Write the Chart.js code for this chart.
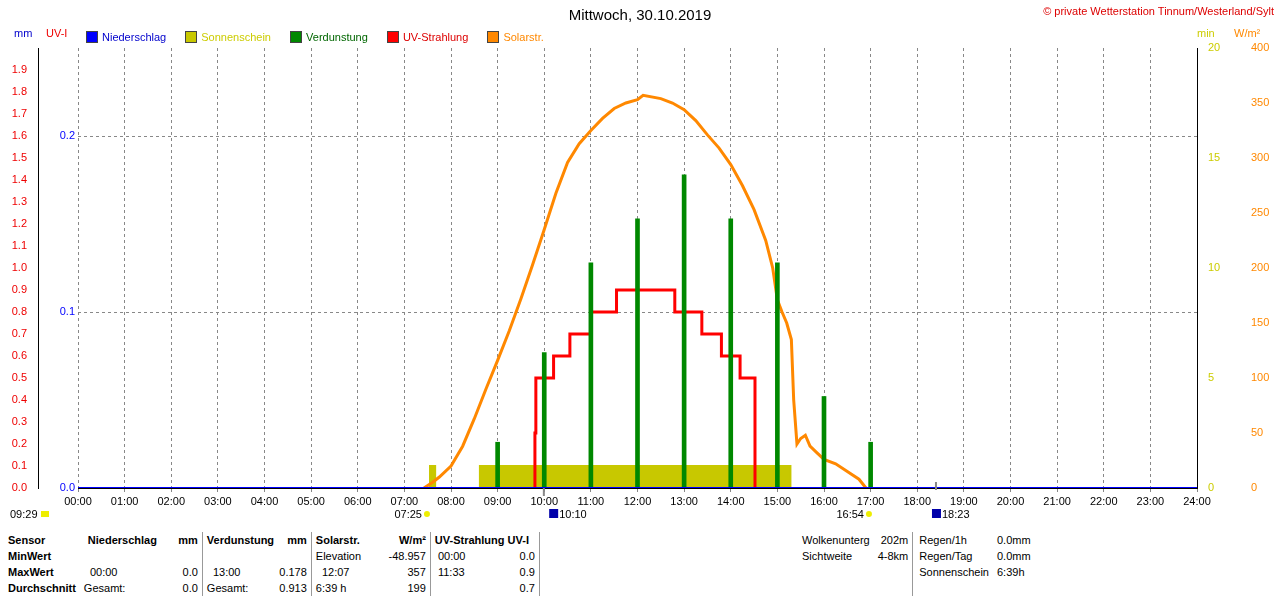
<!DOCTYPE html>
<html><head><meta charset="utf-8">
<script src="https://cdn.jsdelivr.net/npm/chart.js@4"></script>
<style>
body{margin:0;background:#fff;font-family:"Liberation Sans",Arial,sans-serif;font-size:11px;width:1280px;height:600px;position:relative;overflow:hidden}
.a{position:absolute;white-space:nowrap}
.sq{display:inline-block;width:10px;height:10px;border:1px solid #444;margin-right:4px;vertical-align:-2px}
table{position:absolute;top:532px;border-collapse:collapse;font-size:11px}
td{padding:0 4px;height:16px}
.b{font-weight:bold}
.r{text-align:right}
.sep{border-right:1px solid #999}
</style></head><body>
<canvas id="c" width="1280" height="520" style="position:absolute;left:0;top:0"></canvas>
<div class="a" style="left:0;width:1280px;top:6px;text-align:center;font-size:15px">Mittwoch, 30.10.2019</div>
<div class="a" style="right:6px;top:5px;color:#d00">© private Wetterstation Tinnum/Westerland/Sylt</div>
<div class="a" style="left:14px;top:27px;color:#00c">mm</div>
<div class="a" style="left:46px;top:27px;color:#e00">UV-I</div>
<div class="a" style="left:1197px;top:27px;color:#cc0">min</div>
<div class="a" style="left:1234px;top:27px;color:#f80">W/m²</div>
<div class="a" style="left:86px;top:31px">
<span class="sq" style="background:#00f"></span><span style="color:#00c;margin-right:16px">Niederschlag</span>
<span class="sq" style="background:#c8c800"></span><span style="color:#cc0;margin-right:16px">Sonnenschein</span>
<span class="sq" style="background:#080"></span><span style="color:#060;margin-right:16px">Verdunstung</span>
<span class="sq" style="background:#f00"></span><span style="color:#d00;margin-right:16px">UV-Strahlung</span>
<span class="sq" style="background:#f80"></span><span style="color:#f80">Solarstr.</span>
</div>
<table style="left:4px">
<tr><td class="b">Sensor</td><td class="b sep" style="padding-left:8px;width:110px"><span>Niederschlag</span><span style="float:right">mm</span></td>
<td class="b sep" style="width:100px"><span>Verdunstung</span><span style="float:right">mm</span></td>
<td class="b sep" style="width:110px"><span>Solarstr.</span><span style="float:right">W/m²</span></td>
<td class="b sep" style="width:100px">UV-Strahlung UV-I</td></tr>
<tr><td class="b">MinWert</td><td class="sep"></td><td class="sep"></td><td class="sep">Elevation<span style="float:right">-48.957</span></td><td class="sep">&nbsp;00:00<span style="float:right">0.0</span></td></tr>
<tr><td class="b">MaxWert</td><td class="sep">&nbsp;&nbsp;00:00<span style="float:right">0.0</span></td><td class="sep">&nbsp;&nbsp;13:00<span style="float:right">0.178</span></td><td class="sep">&nbsp;&nbsp;12:07<span style="float:right">357</span></td><td class="sep">&nbsp;11:33<span style="float:right">0.9</span></td></tr>
<tr><td class="b">Durchschnitt</td><td class="sep">Gesamt:<span style="float:right">0.0</span></td><td class="sep">Gesamt:<span style="float:right">0.913</span></td><td class="sep">6:39 h<span style="float:right">199</span></td><td class="sep"><span style="float:right">0.7</span></td></tr>
</table>
<table style="left:798px">
<tr><td>Wolkenunterg</td><td class="r sep">202m</td><td style="padding-left:6px">Regen/1h</td><td>0.0mm</td></tr>
<tr><td>Sichtweite</td><td class="r sep">4-8km</td><td style="padding-left:6px">Regen/Tag</td><td>0.0mm</td></tr>
<tr><td></td><td class="sep"></td><td style="padding-left:6px">Sonnenschein</td><td>6:39h</td></tr>
<tr><td></td><td class="sep"></td><td></td><td></td></tr>
</table>
<script>
const hourLabels = ["00:00","01:00","02:00","03:00","04:00","05:00","06:00","07:00","08:00","09:00","10:00","11:00","12:00","13:00","14:00","15:00","16:00","17:00","18:00","19:00","20:00","21:00","22:00","23:00","24:00"];

// Verdunstung (mm), hourly
const evapHours = [9, 10, 11, 12, 13, 14, 15, 16, 17];
const evapValues = [0.026, 0.077, 0.128, 0.153, 0.178, 0.153, 0.128, 0.052, 0.026];

// UV index steps (hour, value)
const uvHours = [9.78, 9.8, 9.82, 10.2, 10.55, 11.0, 11.55, 12.8, 13.38, 13.8, 14.2, 14.52];
const uvValues = [0, 0.25, 0.5, 0.6, 0.7, 0.8, 0.9, 0.8, 0.7, 0.6, 0.5, 0];

// Solarstrahlung (W/m²)
const solarHours = [7.42, 7.6, 7.75, 8.0, 8.25, 8.5, 8.75, 9.0, 9.25, 9.5, 9.75, 10.0, 10.25, 10.5, 10.75, 11.0, 11.25, 11.5, 11.75, 12.0, 12.12, 12.5, 12.75, 13.0, 13.25, 13.5, 13.75, 14.0, 14.25, 14.5, 14.75, 14.9, 15.0, 15.1, 15.2, 15.3, 15.35, 15.42, 15.5, 15.6, 15.7, 15.85, 16.0, 16.25, 16.5, 16.75, 16.9];
const solarValues = [0, 5, 10, 20, 38, 63, 90, 116, 143, 172, 203, 235, 268, 296, 313, 325, 336, 345, 350, 353, 357, 354, 350, 344, 334, 321, 309, 294, 275, 253, 225, 200, 171, 160, 150, 135, 80, 40, 45, 48, 38, 32, 26, 22, 15, 8, 0];

// Sonnenschein (min per step)
const sunHours = [3, 7.55, 7.55, 7.66, 7.66, 8.62, 8.62, 15.28, 15.28, 24];
const sunValues = [0, 0, 1, 1, 0, 0, 1, 1, 0, 0];

// Niederschlag (mm)
const rainHours = [0, 24];
const rainValues = [0, 0];

const marks = [
  {x: 0, t: "09:29", c: "#ee0"}, {x: 7.42, t: "07:25", c: "#ee0"},
  {x: 10.17, t: "10:10", c: "#00a"}, {x: 16.9, t: "16:54", c: "#ee0"}, {x: 18.38, t: "18:23", c: "#00a"}
];

const pts = (xs, ys) => xs.map((x, i) => ({x: x, y: ys[i]}));
const font = {family: "Liberation Sans", size: 11};

const annot = {
  id: "annot",
  afterDraw(ch) {
    const g = ch.ctx, xs = ch.scales.x;
    g.save();
    g.font = "11px Liberation Sans";
    g.fillStyle = "#000";
    marks.forEach((m, i) => {
      const px = i === 0 ? 10 : xs.getPixelForValue(m.x);
      g.textAlign = i === 0 ? "left" : (m.c === "#00a" ? "left" : "right");
      if (i === 0) { g.fillText(m.t, px, 518); g.fillStyle = m.c; g.fillRect(px + 31, 511, 8, 6); g.fillStyle = "#000"; }
      else if (m.c === "#00a") { g.fillStyle = m.c; g.fillRect(px - 3, 509, 9, 9); g.fillStyle = "#000"; g.fillText(m.t, px + 7, 518); }
      else { g.fillText(m.t, px - 2, 518); g.fillStyle = "#ee0"; g.beginPath(); g.arc(px + 3, 514, 3, 0, 7); g.fill(); g.fillStyle = "#000"; }
    });
    g.fillStyle = "#888";
    g.fillRect(xs.getPixelForValue(9.97), 488, 2, 8);
    g.fillRect(xs.getPixelForValue(18.38), 482, 2, 8);
    g.restore();
  }
};

new Chart(document.getElementById("c"), {
  data: {
    datasets: [
      {type: "line", label: "Niederschlag", data: pts(rainHours, rainValues), yAxisID: "mm", borderColor: "#00f", borderWidth: 2, pointRadius: 0, order: 0},
      {type: "line", label: "UV-Strahlung", data: pts(uvHours, uvValues), yAxisID: "uv", borderColor: "#f00", borderWidth: 3, pointRadius: 0, stepped: "before", order: 2},
      {type: "bar", label: "Verdunstung", data: pts(evapHours, evapValues), yAxisID: "mm", backgroundColor: "#080", barThickness: 4, order: 1},
      {type: "line", label: "Solarstr.", data: pts(solarHours, solarValues), yAxisID: "w", borderColor: "#f80", borderWidth: 3, pointRadius: 0, tension: 0, order: 3},
      {type: "line", label: "Sonnenschein", data: pts(sunHours, sunValues), yAxisID: "min", borderColor: "#c8c800", backgroundColor: "#c8c800", fill: "origin", borderWidth: 2, pointRadius: 0, order: 4}
    ]
  },
  options: {
    responsive: false, animation: false, devicePixelRatio: 1,
    layout: {padding: {top: 48}},
    plugins: {legend: {display: false}, tooltip: {enabled: false}},
    scales: {
      x: {type: "linear", min: 0, max: 24, offset: false,
        afterFit: s => { s.height = 32; },
        afterBuildTicks: s => { s.ticks = hourLabels.map((l, i) => ({value: i})); },
        ticks: {autoSkip: false, maxRotation: 0, color: "#000", font: font, callback: v => hourLabels[v]},
        grid: {color: "#888", tickLength: 4, drawTicks: true, offset: false}, border: {display: true, color: "#000", dash: [3, 3]}},
      mm: {position: "left", min: 0, max: 0.25,
        afterFit: s => { s.width = 40; },
        afterBuildTicks: s => { s.ticks = [{value: 0}, {value: 0.1}, {value: 0.2}]; },
        ticks: {color: "#00f", font: font, callback: v => v.toFixed(1)},
        grid: {color: "#888", drawTicks: false}, border: {display: false, dash: [3, 3]}},
      uv: {position: "left", min: 0, max: 2.0,
        afterFit: s => { s.width = 38; },
        afterBuildTicks: s => { s.ticks = []; for (let i = 0; i < 20; i++) s.ticks.push({value: i / 10}); },
        ticks: {color: "#e00", font: font, callback: v => v.toFixed(1)},
        grid: {display: false}, border: {display: true, color: "#000"}},
      min: {position: "right", min: 0, max: 20,
        afterFit: s => { s.width = 43; },
        ticks: {stepSize: 5, color: "#cc0", font: font},
        grid: {display: false}, border: {display: true, color: "#000"}},
      w: {position: "right", min: 0, max: 400,
        afterFit: s => { s.width = 40; },
        ticks: {stepSize: 50, color: "#f80", font: font},
        grid: {display: false}, border: {display: false}}
    }
  },
  plugins: [annot]
});
</script>
</body></html>
